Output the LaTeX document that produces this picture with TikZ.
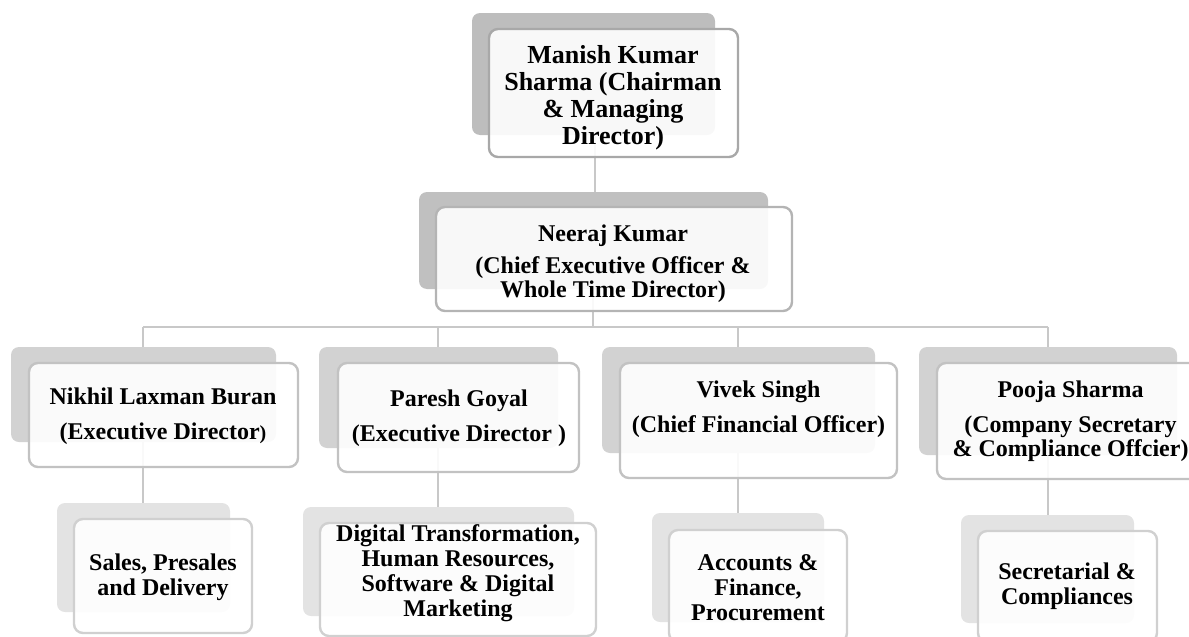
\documentclass[tikz,border=0pt]{standalone}
\usepackage{fontspec}
\setmainfont{Liberation Serif}
\usetikzlibrary{fit,backgrounds}
\definecolor{shA}{HTML}{BDBDBD}
\definecolor{shB}{HTML}{C0C0C0}
\definecolor{shC}{HTML}{D2D2D2}
\definecolor{shD}{HTML}{E3E3E3}
\definecolor{bdA}{HTML}{A8A8A8}
\definecolor{bdB}{HTML}{B4B4B4}
\definecolor{bdC}{HTML}{C2C2C2}
\definecolor{bdD}{HTML}{D0D0D0}
\definecolor{lnc}{HTML}{C8C8C8}
\tikzset{
  shadowbox/.style={fill=#1, draw=none, rounded corners=4pt, inner sep=0pt},
  cardbox/.style={fill=white, fill opacity=0.9, draw=#1, line width=1.2pt, rounded corners=4.5pt, inner sep=0pt},
  conn/.style={draw=lnc, line width=1pt},
  lbl/.style={align=center, text=black, inner sep=0pt, font=\bfseries\fontsize{12}{12}\selectfont},
  lblbig/.style={align=center, text=black, inner sep=0pt, font=\bfseries\fontsize{13}{13.5}\selectfont},
  lblsm/.style={align=center, text=black, inner sep=0pt, font=\bfseries\fontsize{12}{12.5}\selectfont},
}
\begin{document}
\begin{tikzpicture}[x=0.5pt, y=-0.5pt]
\useasboundingbox (0,0) rectangle (1189,637);
% connector x positions
\coordinate (t1) at (595,0);
\coordinate (t2) at (593,0);
\coordinate (bus) at (0,327);
\coordinate (d1) at (143,0);
\coordinate (d2) at (438,0);
\coordinate (d3) at (738,0);
\coordinate (d4) at (1048,0);
% shadows
\node[shadowbox=shA, fit={(472,13)(715,135)}] (s1) {};
\node[shadowbox=shB, fit={(419,192)(768,289)}] (s2) {};
\node[shadowbox=shC, fit={(11,347)(276,442)}] (s3a) {};
\node[shadowbox=shC, fit={(319,347)(558,448)}] (s3b) {};
\node[shadowbox=shC, fit={(602,347)(875,453)}] (s3c) {};
\node[shadowbox=shC, fit={(919,347)(1177,455)}] (s3d) {};
\node[shadowbox=shD, fit={(57,503)(230,612)}] (s4a) {};
\node[shadowbox=shD, fit={(303,507)(574,616)}] (s4b) {};
\node[shadowbox=shD, fit={(652,513)(824,622)}] (s4c) {};
\node[shadowbox=shD, fit={(961,515)(1134,623)}] (s4d) {};
% cards
\node[cardbox=bdA, fit={(489,29)(738,157)}] (b1) {};
\node[cardbox=bdB, fit={(436,207)(792,311)}] (b2) {};
\node[cardbox=bdC, fit={(29,363)(298,467)}] (b3a) {};
\node[cardbox=bdC, fit={(338,363)(579,472)}] (b3b) {};
\node[cardbox=bdC, fit={(620,363)(897,478)}] (b3c) {};
\node[cardbox=bdC, fit={(937,363)(1204,479)}] (b3d) {};
\node[cardbox=bdD, fit={(74,519)(252,633)}] (b4a) {};
\node[cardbox=bdD, fit={(320,523)(596,636)}] (b4b) {};
\node[cardbox=bdD, fit={(669,530)(847,642)}] (b4c) {};
\node[cardbox=bdD, fit={(978,531)(1157,642)}] (b4d) {};
% texts
\node[lblbig] (x1) at (613,97.5) {Manish Kumar\\Sharma (Chairman\\\& Managing\\Director)};
\node[lbl] (x2) at (613,264) {Neeraj Kumar\\[4pt](Chief Executive Officer \&\\Whole Time Director)};
\node[lbl] (x3a) at (163,416) {Nikhil Laxman Buran\\[5.5pt](Executive Director{\fontsize{10}{10}\selectfont)}};
\node[lbl] (x3b) at (459,418) {Paresh Goyal\\[5.5pt](Executive Director )};
\node[lbl] (x3c) at (758.5,409) {Vivek Singh\\[5.5pt](Chief Financial Officer)};
\node[lbl] (x3d) at (1070.5,421) {Pooja Sharma\\[5.5pt](Company Secretary\\\& Compliance Offcier)};
\node[lblsm] (x4a) at (163,577) {Sales, Presales\\and Delivery};
\node[lblsm] (x4b) at (458,573) {Digital Transformation,\\Human Resources,\\Software \& Digital\\Marketing};
\node[lblsm] (x4c) at (758,587.5) {Accounts \&\\Finance,\\Procurement};
\node[lblsm] (x4d) at (1067,586.5) {Secretarial \&\\Compliances};
% connectors (behind everything)
\begin{pgfonlayer}{background}
\draw[conn] (s1.center -| t1) -- (s2.north -| t1);
\draw[conn] (s2.center -| t2) -- (bus -| t2);
\draw[conn] (bus -| d1) -- (bus -| d4);
\draw[conn] (bus -| d1) -- (s3a.north -| d1);
\draw[conn] (bus -| d2) -- (s3b.north -| d2);
\draw[conn] (bus -| d3) -- (s3c.north -| d3);
\draw[conn] (bus -| d4) -- (s3d.north -| d4);
\draw[conn] (s3a.center -| d1) -- (s4a.north -| d1);
\draw[conn] (s3b.center -| d2) -- (s4b.north -| d2);
\draw[conn] (s3c.center -| d3) -- (s4c.north -| d3);
\draw[conn] (s3d.center -| d4) -- (s4d.north -| d4);
\end{pgfonlayer}
\end{tikzpicture}
\end{document}
